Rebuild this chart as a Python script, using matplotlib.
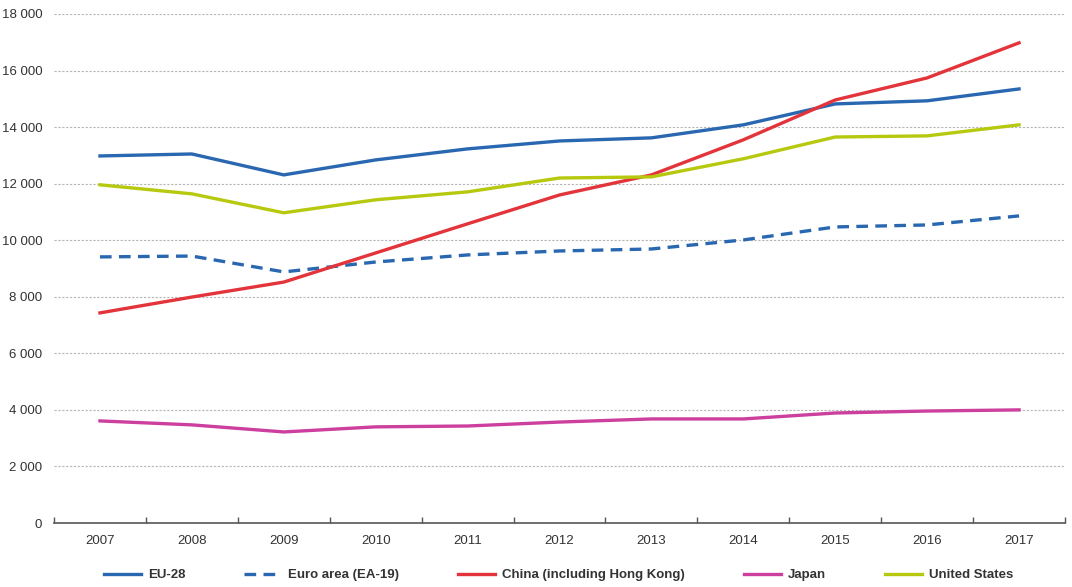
import matplotlib
matplotlib.use("Agg")
import matplotlib.pyplot as plt
from matplotlib.ticker import FuncFormatter, FixedLocator

years = ["2007", "2008", "2009", "2010", "2011", "2012", "2013", "2014", "2015", "2016", "2017"]
eu28 = [12980, 13050, 12310, 12840, 13230, 13510, 13620, 14080, 14820, 14930, 15350]
euro_area = [9410, 9440, 8880, 9230, 9480, 9620, 9690, 10010, 10470, 10540, 10860]
china = [7430, 7990, 8520, 9550, 10580, 11600, 12310, 13550, 14960, 15740, 16980]
japan = [3610, 3470, 3220, 3400, 3430, 3570, 3680, 3680, 3890, 3960, 4000]
usa = [11960, 11640, 10970, 11430, 11710, 12200, 12240, 12880, 13650, 13690, 14080]
y_ticks = [0, 2000, 4000, 6000, 8000, 10000, 12000, 14000, 16000, 18000]

plt.rcParams['font.family'] = ['Liberation Sans', 'DejaVu Sans']

fig = plt.figure(figsize=(10.72, 5.87), dpi=100)
ax = fig.add_axes([54/1072, 64/587, (1065-54)/1072, (523-14)/587])

x = list(range(len(years)))
lw = 2.4
ax.plot(x, eu28, color="#2a67b1", lw=lw, label="EU-28")
ax.plot(x, euro_area, color="#2a67b1", lw=lw, ls=(0, (3.5, 2.2)), label="Euro area (EA-19)")
ax.plot(x, china, color="#e2343a", lw=lw, label="China (including Hong Kong)")
ax.plot(x, japan, color="#cc3f9e", lw=lw, label="Japan")
ax.plot(x, usa, color="#b6c90e", lw=lw, label="United States")

ax.set_xlim(-0.5, len(years) - 0.5)
ax.set_ylim(0, 18000)
ax.set_yticks(y_ticks)
ax.yaxis.set_major_formatter(FuncFormatter(lambda v, p: f"{int(v):,}".replace(",", " ")))
ax.set_xticks(x)
ax.set_xticklabels(years)
ax.xaxis.set_minor_locator(FixedLocator([i - 0.5 for i in range(len(years) + 1)]))
ax.tick_params(axis="x", which="major", length=0, pad=9, labelsize=9.5, colors="#333333")
ax.tick_params(axis="x", which="minor", length=4, direction="in", color="#555555", width=1)
ax.tick_params(axis="y", length=0, pad=8.5, labelsize=9.5, colors="#333333")

ax.grid(axis="y", color="#b5b5b5", ls=(0, (2, 1.5)), lw=0.8)
ax.set_axisbelow(True)
for s in ["top", "right", "left"]:
    ax.spines[s].set_visible(False)
ax.spines["bottom"].set_color("#555555")
ax.spines["bottom"].set_linewidth(1.2)
ax.spines["bottom"].set_zorder(0)

leg = fig.legend(loc="center", bbox_to_anchor=(0.521, 1 - 575/587), ncol=5, frameon=False,
                 prop={"size": 9.5, "weight": "bold"}, handlelength=2.8, columnspacing=4.5,
                 handletextpad=0.5)
for t in leg.get_texts():
    t.set_color("#333333")

fig.savefig("out.png", dpi=100)
